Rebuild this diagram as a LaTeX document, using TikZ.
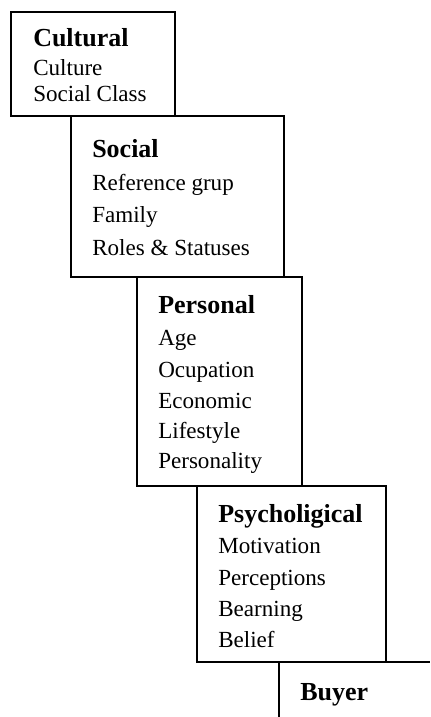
\documentclass[tikz,border=0pt]{standalone}
\usepackage{fontspec}
\setmainfont{Liberation Serif}
\usetikzlibrary{fit}
\tikzset{
  box/.style={draw, line width=1.2pt, inner sep=0pt},
  head/.style={anchor=base west, inner sep=0pt, font=\fontsize{19.5}{22}\selectfont\bfseries},
  item/.style={anchor=base west, inner sep=0pt, font=\fontsize{17.3}{20}\selectfont},
  edge/.style={line width=1.2pt}
}
\begin{document}
\begin{tikzpicture}[x=0.75pt,y=-0.75pt]
\useasboundingbox (0,0) rectangle (430,717);
% boxes
\node[box, fit={(11,12)(175,116)}] (cultural) {};
\node[box, fit={(71,116)(284,277)}] (social) {};
\node[box, fit={(137,277)(302,486)}] (personal) {};
\node[box, fit={(197,486)(386,662)}] (psych) {};
% buyer (open box)
\coordinate (bl) at (279,717);
\coordinate (bc) at (279,662);
\coordinate (br) at (430,662);
\draw[edge] (bl) -- (bc) -- (br);
% Cultural
\node[head] (t1) at (33,47) {Cultural};
\node[item] (t1a) at (33,75) {Culture};
\node[item] (t1b) at (33,102) {Social Class};
% Social
\node[head] (t2) at (92,157) {Social};
\node[item] (t2a) at (92,190) {Reference grup};
\node[item] (t2b) at (92,222) {Family};
\node[item] (t2c) at (92,255) {Roles \& Statuses};
% Personal
\node[head] (t3) at (158,313) {Personal};
\node[item] (t3a) at (158,345) {Age};
\node[item] (t3b) at (158,377) {Ocupation};
\node[item] (t3c) at (158,408) {Economic};
\node[item] (t3d) at (158,438) {Lifestyle};
\node[item] (t3e) at (158,468) {Personality};
% Psychological
\node[head] (t4) at (218,522) {Psycholigical};
\node[item] (t4a) at (218,553) {Motivation};
\node[item] (t4b) at (218,585) {Perceptions};
\node[item] (t4c) at (218,616) {Bearning};
\node[item] (t4d) at (218,647) {Belief};
% Buyer
\node[head] (t5) at (300,700) {Buyer};
\end{tikzpicture}
\end{document}
